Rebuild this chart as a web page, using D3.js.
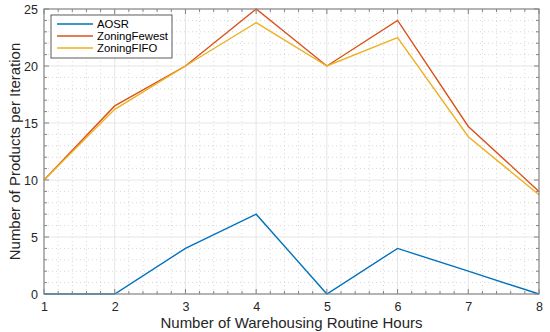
<!DOCTYPE html>
<html><head><meta charset="utf-8">
<script src="https://cdn.jsdelivr.net/npm/d3@7"></script>
<style>body{margin:0;background:#fff}svg{display:block}text{font-family:"Liberation Sans",Arial,sans-serif}</style>
</head><body><svg id="c" width="550" height="332"></svg>
<script>
const hours = [1,2,3,4,5,6,7,8];
const aosr = [0,0,4,7,0,4,2,0];
const zoningFewest = [10,16.5,20,25,20,24,14.7,9];
const zoningFIFO = [10,16.2,20,23.8,20,22.5,13.8,8.7];
const seriesNames = ["AOSR","ZoningFewest","ZoningFIFO"];
const colors = ["#0072BD","#D95319","#EDB120"];
const yTicks = [0,5,10,15,20,25];

const svg = d3.select("#c");
const L=44,R=539,T=9,B=294;
const x = d3.scaleLinear().domain([1,8]).range([L,R]);
const y = d3.scaleLinear().domain([0,25]).range([B,T]);

const g = svg.append("g");
const xMinor = d3.range(1,8.001,0.2).filter(v=>Math.abs(v-Math.round(v))>1e-6);
const yMinor = d3.range(0,25.001,1).filter(v=>v%5!==0);
g.selectAll(".mx").data(xMinor).join("line").attr("x1",d=>x(d)).attr("x2",d=>x(d)).attr("y1",T).attr("y2",B)
 .attr("stroke","#d8d8d8").attr("stroke-width",1).attr("stroke-dasharray","1,3");
g.selectAll(".my").data(yMinor).join("line").attr("y1",d=>y(d)).attr("y2",d=>y(d)).attr("x1",L).attr("x2",R)
 .attr("stroke","#d8d8d8").attr("stroke-width",1).attr("stroke-dasharray","1,3");
g.selectAll(".gx").data(hours).join("line").attr("x1",d=>x(d)).attr("x2",d=>x(d)).attr("y1",T).attr("y2",B)
 .attr("stroke","#e6e6e6").attr("stroke-width",1);
g.selectAll(".gy").data(yTicks).join("line").attr("y1",d=>y(d)).attr("y2",d=>y(d)).attr("x1",L).attr("x2",R)
 .attr("stroke","#e6e6e6").attr("stroke-width",1);

const ax = d3.axisBottom(x).tickValues(hours).tickFormat(d3.format("d")).tickSize(0).tickPadding(8);
svg.append("g").attr("transform",`translate(0,${B})`).call(ax).call(s=>{s.select(".domain").remove();s.selectAll("text").attr("font-size",12.5).attr("fill","#262626");});
const ay = d3.axisLeft(y).tickValues(yTicks).tickSize(0).tickPadding(6);
svg.append("g").attr("transform",`translate(${L},0)`).call(ay).call(s=>{s.select(".domain").remove();s.selectAll("text").attr("font-size",12.5).attr("fill","#262626");});

const tk = svg.append("g").attr("stroke","#808080").attr("stroke-width",1);
hours.forEach(h=>{tk.append("line").attr("x1",x(h)).attr("x2",x(h)).attr("y1",B).attr("y2",B-5);tk.append("line").attr("x1",x(h)).attr("x2",x(h)).attr("y1",T).attr("y2",T+5);});
xMinor.forEach(h=>{tk.append("line").attr("x1",x(h)).attr("x2",x(h)).attr("y1",B).attr("y2",B-3);tk.append("line").attr("x1",x(h)).attr("x2",x(h)).attr("y1",T).attr("y2",T+3);});
yTicks.forEach(v=>{tk.append("line").attr("y1",y(v)).attr("y2",y(v)).attr("x1",L).attr("x2",L+5);tk.append("line").attr("y1",y(v)).attr("y2",y(v)).attr("x1",R).attr("x2",R-5);});
yMinor.forEach(v=>{tk.append("line").attr("y1",y(v)).attr("y2",y(v)).attr("x1",L).attr("x2",L+3);tk.append("line").attr("y1",y(v)).attr("y2",y(v)).attr("x1",R).attr("x2",R-3);});

const data = [aosr,zoningFewest,zoningFIFO];
const line = d3.line().x((d,i)=>x(hours[i])).y(d=>y(d));
[1,2,0].forEach(k=>{
 svg.append("path").datum(data[k]).attr("d",line).attr("fill","none").attr("stroke",colors[k]).attr("stroke-width",1.4);
});

svg.append("rect").attr("x",L).attr("y",T).attr("width",R-L).attr("height",B-T).attr("fill","none").attr("stroke","#8a8a8a").attr("stroke-width",1.2);

const lg = svg.append("g");
lg.append("rect").attr("x",51).attr("y",15).attr("width",121).attr("height",43).attr("fill","#fff").attr("stroke","#333").attr("stroke-width",0.8);
seriesNames.forEach((n,i)=>{
 const yy = 24+i*12;
 lg.append("line").attr("x1",57).attr("x2",93).attr("y1",yy).attr("y2",yy).attr("stroke",colors[i]).attr("stroke-width",1.4);
 lg.append("text").attr("x",97).attr("y",yy+4).attr("font-size",11.3).attr("fill","#000").text(n);
});

svg.append("text").attr("x",(L+R)/2).attr("y",328).attr("text-anchor","middle").attr("font-size",15).attr("fill","#262626").text("Number of Warehousing Routine Hours");
svg.append("text").attr("transform",`translate(20,${(T+B)/2}) rotate(-90)`).attr("text-anchor","middle").attr("font-size",15).attr("fill","#262626").text("Number of Products per Iteration");
</script></body></html>
